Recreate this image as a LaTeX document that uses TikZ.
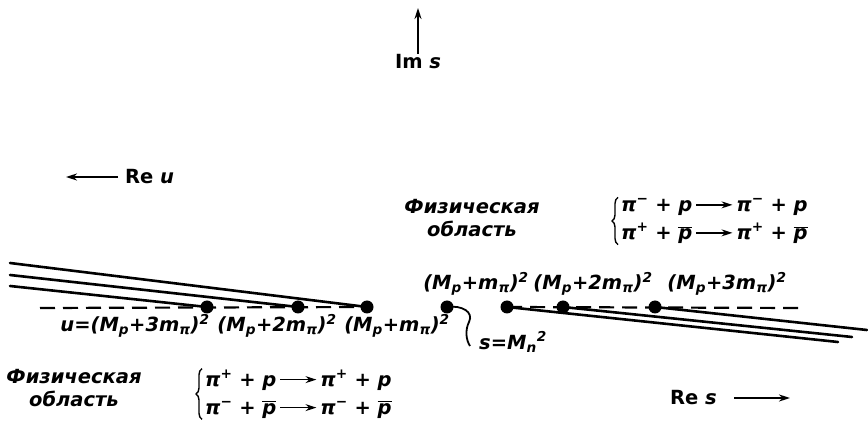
\documentclass[tikz,border=0pt]{standalone}
\usepackage{fontspec}
\setmainfont{DejaVu Sans}
\usetikzlibrary{arrows.meta,positioning,decorations.pathreplacing}
\newcommand\lo[1]{\textsubscript{#1}}
\newcommand\hi[1]{\textsuperscript{#1}}
\newcommand\pbar{$\overline{\mbox{p}}$}
\newcommand\rarr{\,\tikz[baseline=-0.6ex]\draw[line width=1.5pt,-{Stealth[length=11pt,width=7pt]}] (0pt,0pt) -- (36pt,0pt);\,}
\begin{document}
\begin{tikzpicture}[x=1pt,y=-1pt,
lbl/.style={font=\fontsize{19.5}{23}\selectfont\bfseries\itshape,inner sep=1pt},
dot/.style={circle,fill,inner sep=0pt,minimum size=13pt},
cut/.style={line width=2.6pt,line cap=round},
axis/.style={line width=2.2pt,dash pattern=on 15pt off 8pt},
arr/.style={-{Stealth[length=11pt,width=7pt]},line width=2pt},
brc/.style={decorate,decoration={brace,amplitude=6pt},line width=1.4pt}
]
\useasboundingbox (0,0) rectangle (868,443);
% axes
\node[lbl] (ims) at (418,62) {\upshape Im \itshape s};
\coordinate (imt) at (418,8);
\draw[arr] (ims) -- (imt);
\node[lbl,anchor=west] (reu) at (124,177) {\upshape Re \itshape u};
\coordinate (reut) at (66,177);
\draw[arr,shorten <=6pt] (reu) -- (reut);
\node[lbl,anchor=east] (res) at (718,398) {\upshape Re \itshape s};
\coordinate (rest) at (790,398);
\draw[arr,shorten <=16pt] (res) -- (rest);
% thresholds
\foreach \n/\x in {u3/207,u2/298,u1/367,sn/447,s1/507,s2/563,s3/655}
  \node[dot] (\n) at (\x,307) {};
\coordinate (eu1) at (10,263);
\coordinate (eu2) at (10,275);
\coordinate (eu3) at (10,286);
\coordinate (es1) at (838,342);
\coordinate (es2) at (852,337);
\coordinate (es3) at (867,330);
\foreach \a in {u1,u2,u3,s1,s2,s3}
  \draw[cut] (\a.center) -- (e\a);
\coordinate (al) at (40,308);
\coordinate (ar) at (800,308);
\draw[axis] (al) -- (u1.center);
\draw[axis] (s1.center) -- (ar);
% labels
\node[lbl] (lu3) at (135,326) {u=(M\lo{p}+3m\lo{π})\hi{2}};
\node[lbl] (lu2) at (277,326) {(M\lo{p}+2m\lo{π})\hi{2}};
\node[lbl] (lu1) at (397,326) {(M\lo{p}+m\lo{π})\hi{2}};
\node[lbl] (ls1) at (476,284) {(M\lo{p}+m\lo{π})\hi{2}};
\node[lbl] (ls2) at (593,284) {(M\lo{p}+2m\lo{π})\hi{2}};
\node[lbl] (ls3) at (727,284) {(M\lo{p}+3m\lo{π})\hi{2}};
\node[lbl,anchor=west] (lsn) at (478,342) {s=M\lo{n}\hi{2}};
\coordinate (snb) at (470,346);
\draw[line width=1.8pt] (sn.center) .. controls (462,305) and (474,312) .. (469,322)
  .. controls (465,330) and (466,340) .. (snb);
% physical regions
\node[lbl,align=center] (ph1) at (472,218) {Физическая\\область};
\node[lbl,anchor=west,align=left] (rx1) at (620,221) {π\hi{−} + p\rarr π\hi{−} + p\\[5pt]
  π\hi{+} + \pbar\rarr π\hi{+} + \pbar};
\draw[brc] ([xshift=-2pt]rx1.south west) -- ([xshift=-2pt]rx1.north west);
\node[lbl,align=center] (ph2) at (74,388) {Физическая\\область};
\node[lbl,anchor=west,align=left] (rx2) at (204,394) {π\hi{+} + p\rarr π\hi{+} + p\\[5pt]
  π\hi{−} + \pbar\rarr π\hi{−} + \pbar};
\draw[brc] ([xshift=-2pt]rx2.south west) -- ([xshift=-2pt]rx2.north west);
\end{tikzpicture}
\end{document}
